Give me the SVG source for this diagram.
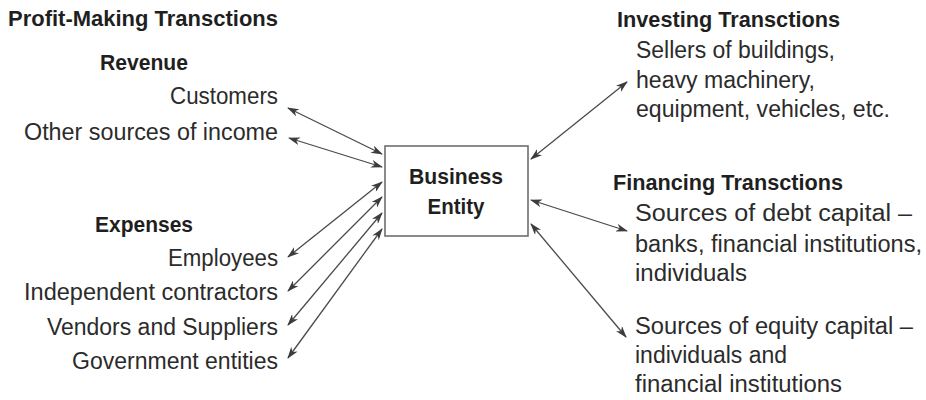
<svg xmlns="http://www.w3.org/2000/svg" width="926" height="400" viewBox="0 0 926 400">
  <defs>
    <style>
      text { font-family: "Liberation Sans", Arial, sans-serif; fill: #2b2b2b; }
      .h { font-weight: bold; font-size: 22px; fill: #1f1f1f; }
      .t { font-size: 23.5px; }
      .r { text-anchor: end; }
      .box { fill: #ffffff; stroke: #6e6e6e; stroke-width: 1.6; }
      .link { fill: none; stroke: #4a4a4a; stroke-width: 1.3; marker-start: url(#tip); marker-end: url(#tip); }
    </style>
    <marker id="tip" viewBox="0 0 12 8" refX="11" refY="4" markerWidth="12" markerHeight="8" markerUnits="userSpaceOnUse" orient="auto-start-reverse">
      <path d="M0,0 L12,4 L0,8 L3.5,4 Z" fill="#3c3c3c"/>
    </marker>
  </defs>

  <rect width="926" height="400" fill="#ffffff"/>

  <!-- connectors -->
  <g id="connectors">
    <line class="link" x1="288" y1="108" x2="382" y2="154"/>
    <line class="link" x1="289" y1="138" x2="382" y2="167"/>
    <line class="link" x1="288" y1="257" x2="382" y2="182"/>
    <line class="link" x1="288" y1="291" x2="382" y2="197"/>
    <line class="link" x1="288" y1="325" x2="382" y2="213"/>
    <line class="link" x1="288" y1="358" x2="382" y2="229"/>
    <line class="link" x1="531" y1="159" x2="627" y2="82"/>
    <line class="link" x1="531" y1="200" x2="627" y2="231"/>
    <line class="link" x1="531" y1="224" x2="626" y2="337"/>
  </g>

  <!-- central entity -->
  <g id="business-entity">
    <rect class="box" x="385" y="146" width="143" height="90"/>
    <text class="h" x="456" y="184" text-anchor="middle" textLength="94" lengthAdjust="spacingAndGlyphs">Business</text>
    <text class="h" x="456" y="214" text-anchor="middle" textLength="57" lengthAdjust="spacingAndGlyphs">Entity</text>
  </g>

  <!-- profit-making side -->
  <g id="profit-making">
    <text class="h" x="8" y="26" textLength="270" lengthAdjust="spacingAndGlyphs">Profit-Making Transctions</text>
  </g>
  <g id="revenue">
    <text class="h" x="100" y="70" textLength="88" lengthAdjust="spacingAndGlyphs">Revenue</text>
  </g>
  <g id="customers">
    <text class="t r" x="278" y="104" textLength="108" lengthAdjust="spacingAndGlyphs">Customers</text>
  </g>
  <g id="other-income">
    <text class="t r" x="278" y="140" textLength="254" lengthAdjust="spacingAndGlyphs">Other sources of income</text>
  </g>
  <g id="expenses">
    <text class="h" x="95" y="232" textLength="98" lengthAdjust="spacingAndGlyphs">Expenses</text>
  </g>
  <g id="employees">
    <text class="t r" x="278" y="266" textLength="110" lengthAdjust="spacingAndGlyphs">Employees</text>
  </g>
  <g id="contractors">
    <text class="t r" x="278" y="300" textLength="254" lengthAdjust="spacingAndGlyphs">Independent contractors</text>
  </g>
  <g id="vendors">
    <text class="t r" x="278" y="335" textLength="231" lengthAdjust="spacingAndGlyphs">Vendors and Suppliers</text>
  </g>
  <g id="government">
    <text class="t r" x="278" y="369" textLength="206" lengthAdjust="spacingAndGlyphs">Government entities</text>
  </g>

  <!-- investing side -->
  <g id="investing">
    <text class="h" x="617" y="27" textLength="223" lengthAdjust="spacingAndGlyphs">Investing Transctions</text>
  </g>
  <g id="sellers">
    <text class="t" x="636" y="58" textLength="199" lengthAdjust="spacingAndGlyphs">Sellers of buildings,</text>
    <text class="t" x="636" y="88" textLength="179" lengthAdjust="spacingAndGlyphs">heavy machinery,</text>
    <text class="t" x="636" y="117" textLength="254" lengthAdjust="spacingAndGlyphs">equipment, vehicles, etc.</text>
  </g>

  <!-- financing side -->
  <g id="financing">
    <text class="h" x="613" y="190" textLength="230" lengthAdjust="spacingAndGlyphs">Financing Transctions</text>
  </g>
  <g id="debt-capital">
    <text class="t" x="635" y="221" textLength="277" lengthAdjust="spacingAndGlyphs">Sources of debt capital –</text>
    <text class="t" x="635" y="252" textLength="287" lengthAdjust="spacingAndGlyphs">banks, financial institutions,</text>
    <text class="t" x="635" y="281" textLength="112" lengthAdjust="spacingAndGlyphs">individuals</text>
  </g>
  <g id="equity-capital">
    <text class="t" x="635" y="334" textLength="278" lengthAdjust="spacingAndGlyphs">Sources of equity capital –</text>
    <text class="t" x="635" y="363" textLength="152" lengthAdjust="spacingAndGlyphs">individuals and</text>
    <text class="t" x="635" y="392" textLength="207" lengthAdjust="spacingAndGlyphs">financial institutions</text>
  </g>
</svg>
